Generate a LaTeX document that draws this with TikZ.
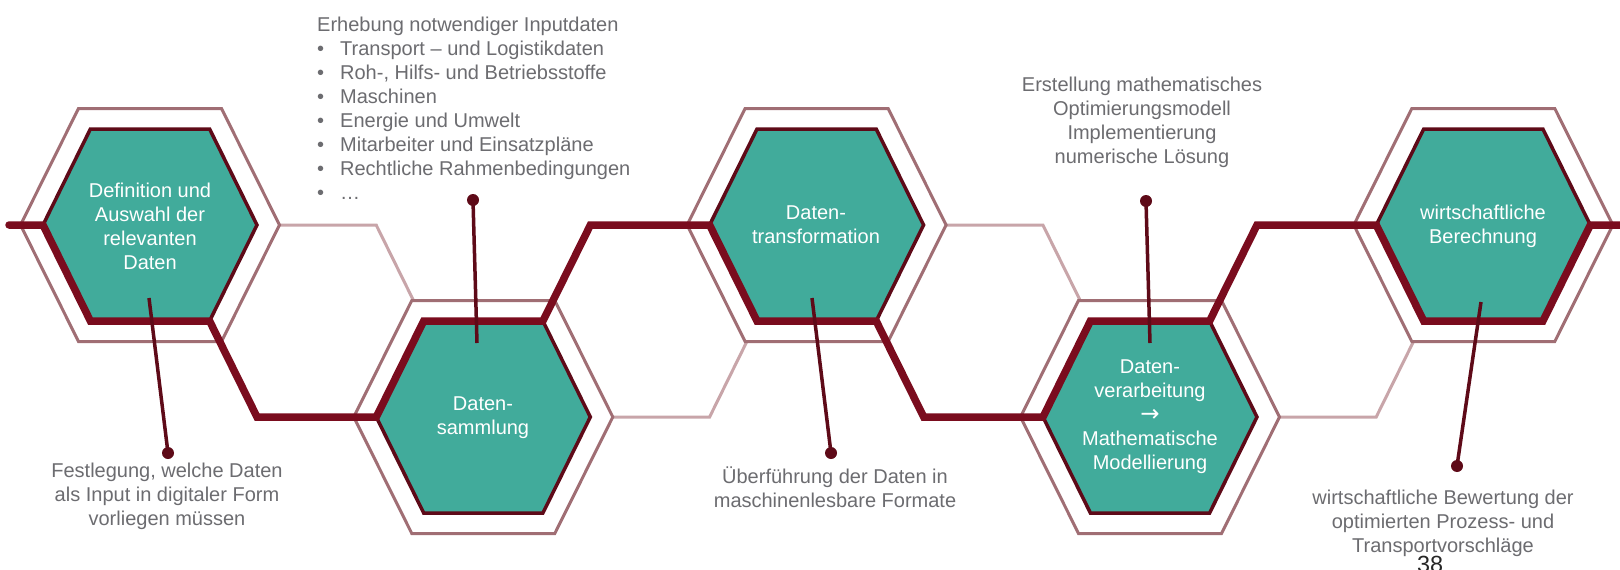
\documentclass[tikz,border=0pt]{standalone}
\usepackage{fontspec}
\setmainfont{Liberation Sans}
\newfontfamily\arrowfont{DejaVu Sans}
\definecolor{tealfill}{RGB}{65,171,155}
\definecolor{maroonA}{RGB}{122,12,30}
\definecolor{maroonB}{RGB}{94,10,24}
\definecolor{roseA}{RGB}{160,110,116}
\definecolor{roseB}{RGB}{200,165,169}
\definecolor{txtgrey}{RGB}{108,108,112}
\newcommand{\mybul}{\makebox[23pt][l]{•}}
\tikzset{
  lighthex/.style={draw=roseB, line width=3pt},
  outerhex/.style={draw=roseA, fill=white, line width=3pt},
  innerhex/.style={draw=maroonB, fill=tealfill, line width=3.5pt},
  mainpath/.style={draw=maroonA, line width=7.5pt, line join=miter, line cap=round},
  hextext/.style={text=white, font=\fontsize{20}{24}\selectfont, align=center, inner sep=0pt},
  note/.style={text=txtgrey, font=\fontsize{20}{24}\selectfont, align=center, inner sep=0pt},
  pinline/.style={draw=maroonB, line width=3.5pt},
  pindot/.style={circle, fill=maroonB, minimum size=12pt, inner sep=0pt},
}
\begin{document}
\begin{tikzpicture}[x=1pt,y=-1pt]
\useasboundingbox[fill=white] (0,0) rectangle (1620,570);
% light connecting hexagons
\foreach \cx/\cy in {316.6/321, 650/321, 983.3/321, 1316.6/321}
  \draw[lighthex] (\cx-107,\cy) -- (\cx-59.6,\cy-96) -- (\cx+59.6,\cy-96) -- (\cx+107,\cy) -- (\cx+59.6,\cy+96) -- (\cx-59.6,\cy+96) -- cycle;
% outer rings
\foreach \cx/\cy in {150/225, 483.3/417, 816.6/225, 1150/417, 1483.3/225}
  \draw[outerhex] (\cx-129.5,\cy) -- (\cx-71.5,\cy-116.5) -- (\cx+71.5,\cy-116.5) -- (\cx+129.5,\cy) -- (\cx+71.5,\cy+116.5) -- (\cx-71.5,\cy+116.5) -- cycle;
% inner teal hexagons
\foreach \cx/\cy in {150/225, 483.3/417, 816.6/225, 1150/417, 1483.3/225}
  \draw[innerhex] (\cx-107,\cy) -- (\cx-59.6,\cy-96) -- (\cx+59.6,\cy-96) -- (\cx+107,\cy) -- (\cx+59.6,\cy+96) -- (\cx-59.6,\cy+96) -- cycle;
% main thick path
\draw[mainpath] (9,225) -- (43,225) -- (90.4,321) -- (209.6,321) -- (257,417) -- (376.3,417)
  -- (423.7,321) -- (542.9,321) -- (590.4,225) -- (709.6,225) -- (757,321) -- (876.2,321)
  -- (923.7,417) -- (1043,417) -- (1090.4,321) -- (1209.6,321) -- (1257,225) -- (1376.3,225)
  -- (1423.7,321) -- (1542.9,321) -- (1590.3,225) -- (1625,225);
% hexagon labels
\node[hextext] (h1) at (150,226) {Definition und\\Auswahl der\\relevanten\\Daten};
\node[hextext] (h2) at (483,418) {Daten-\\sammlung};
\node[hextext] (h3) at (816,224.5) {Daten-\\transformation};
\node[hextext] (h4) at (1150,417) {Daten-\\verarbeitung\\{\arrowfont\fontsize{23}{24}\selectfont →}\\Mathematische\\Modellierung};
\node[hextext] (h5) at (1483,226) {wirtschaftliche\\Berechnung};
% notes
\node[note] (n1) at (167,496) {Festlegung, welche Daten\\als Input in digitaler Form\\vorliegen müssen};
\node[note, align=left, anchor=north west] (n2) at (317,17) {Erhebung notwendiger Inputdaten\\
\mybul Transport – und Logistikdaten\\
\mybul Roh-, Hilfs- und Betriebsstoffe\\
\mybul Maschinen\\
\mybul Energie und Umwelt\\
\mybul Mitarbeiter und Einsatzpläne\\
\mybul Rechtliche Rahmenbedingungen\\
\mybul …};
\node[note] (n3) at (835,487) {Überführung der Daten in\\maschinenlesbare Formate};
\node[note] (n4) at (1142,122) {Erstellung mathematisches\\Optimierungsmodell\\Implementierung\\numerische Lösung};
\node[note] (n5) at (1443,523) {wirtschaftliche Bewertung der\\optimierten Prozess- und\\Transportvorschläge};
\node[anchor=base, inner sep=0pt, text=black!85, font=\fontsize{23.4}{28}\selectfont] (pg) at (1430,572) {38};
% pins
\coordinate (s1) at (149,298);
\coordinate (s2) at (477,343);
\coordinate (s3) at (812,298);
\coordinate (s4) at (1150,343);
\coordinate (s5) at (1481,302);
\node[pindot] (d1) at (168,453) {};
\node[pindot] (d2) at (473,200) {};
\node[pindot] (d3) at (831,453) {};
\node[pindot] (d4) at (1146,201) {};
\node[pindot] (d5) at (1457,466) {};
\foreach \i in {1,...,5} \draw[pinline] (s\i) -- (d\i.center);
\end{tikzpicture}
\end{document}
